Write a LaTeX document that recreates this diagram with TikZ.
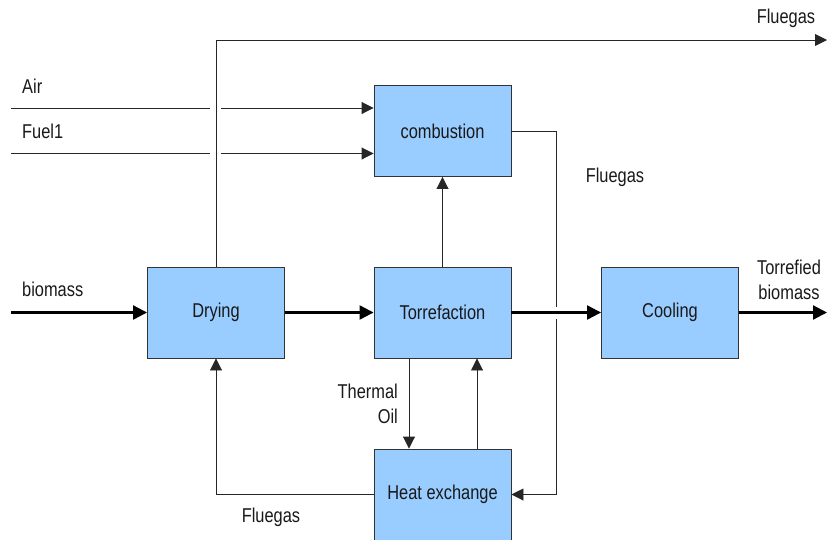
\documentclass[tikz,border=0pt]{standalone}
\usepackage{fontspec}
\setmainfont{Liberation Sans}[FakeStretch=0.82]
\usetikzlibrary{arrows.meta,calc}
\definecolor{boxblue}{HTML}{99CCFF}
\newcommand\lbl{\fontsize{20}{25}\selectfont}
\begin{document}
\begin{tikzpicture}[x=1pt,y=-1pt,
  box/.style={draw=black!80, fill=boxblue, minimum width=137pt, minimum height=91pt, inner sep=0pt, font=\lbl, text=black!90, line width=0.9pt},
  thinline/.style={line width=0.9pt, draw=black!85},
  thickline/.style={line width=2.2pt, draw=black},
  tarr/.style={-{Triangle[length=12pt,width=12pt]}},
  Tarr/.style={-{Triangle[length=14pt,width=14pt]}},
  lab/.style={font=\lbl, inner sep=0pt, text=black!90}]
\useasboundingbox (0,0) rectangle (827,539);

% boxes
\node[box] (dry)  at (216,312.5)   {Drying};
\node[box] (torr) at (442.5,312.5) {Torrefaction};
\node[box] (comb) at (442.5,131)   {combustion};
\node[box] (cool) at (670,312.5)   {Cooling};
\node[box] (hx)   at (442.5,494.5) {Heat exchange};

% free ends
\coordinate (bin)  at (11,312.5);
\coordinate (tout) at (827,312.5);
\coordinate (fout) at (827,40);
\coordinate (a0) at (11,108);
\coordinate (a1) at (210,108);
\coordinate (a2) at (221,108);
\coordinate (f0) at (11,153.5);
\coordinate (f1) at (210,153.5);
\coordinate (f2) at (221,153.5);
\coordinate (c1) at (556,131);
\coordinate (c2) at (556,307);
\coordinate (c3) at (556,319);

% main flow
\draw[thickline,Tarr] (bin) -- (dry.west);
\draw[thickline,Tarr] (dry.east) -- (torr.west);
\draw[thickline,Tarr] (torr.east) -- (cool.west);
\draw[thickline,Tarr] (cool.east) -- (tout);

% flue gas to top
\draw[thinline,tarr] (dry.north) |- (fout);

% air and fuel
\draw[thinline] (a0) -- (a1);
\draw[thinline,tarr] (a2) -- (a2 -| comb.west);
\draw[thinline] (f0) -- (f1);
\draw[thinline,tarr] (f2) -- (f2 -| comb.west);

% torrefaction gas to combustion
\draw[thinline,tarr] (torr.north) -- (comb.south);

% combustion flue gas to heat exchange
\draw[thinline] (comb.east) -- (c1) -- (c2);
\draw[thinline,tarr] (c3) |- (hx.east);

% thermal oil loop
\draw[thinline,tarr] ($(torr.south)+(-33.5,0)$) -- ($(hx.north)+(-33.5,0)$);
\draw[thinline,tarr] ($(hx.north)+(34.5,0)$) -- ($(torr.south)+(34.5,0)$);

% flue gas to drying
\draw[thinline,tarr] (hx.west) -| (dry.south);

% labels
\node[lab,anchor=west] (lair)  at (22,86)  {Air};
\node[lab,anchor=west] (lfuel) at (22,131) {Fuel1};
\node[lab,anchor=west] (lbio)  at (22,289) {biomass};
\node[lab] (lfg1) at (786,18)  {Fluegas};
\node[lab] (lfg2) at (615,177) {Fluegas};
\node[lab] (lfg3) at (271,517) {Fluegas};
\node[lab,anchor=east,align=right] (loil) at (398,403.5) {Thermal\\Oil};
\node[lab,align=center] (ltor) at (789,279.5) {Torrefied\\biomass};
\end{tikzpicture}
\end{document}
